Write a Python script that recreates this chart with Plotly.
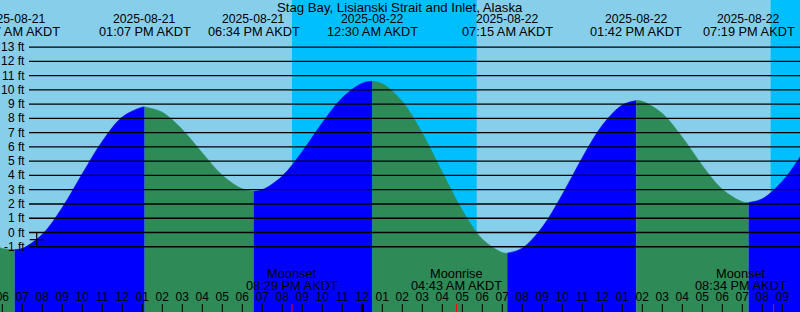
import plotly.graph_objects as go

# ---------------- data ----------------
title = "Stag Bay, Lisianski Strait and Inlet, Alaska"

# hours after 2025-08-21 00:00 AKDT
extreme_times = [6.62, 13.117, 18.567, 24.5, 31.25, 37.7, 43.317]
extreme_heights = [-1.2, 8.8, 2.9, 10.6, -1.45, 9.25, 2.1]
extreme_dates = ["2025-08-21", "2025-08-21", "2025-08-21", "2025-08-22",
                 "2025-08-22", "2025-08-22", "2025-08-22"]
extreme_clock = ["06:37 AM AKDT", "01:07 PM AKDT", "06:34 PM AKDT", "12:30 AM AKDT",
                 "07:15 AM AKDT", "01:42 PM AKDT", "07:19 PM AKDT"]

# hourly tide readings (ft)
hour_times = [5, 6, 7, 8, 9, 10, 11, 12, 13, 14, 15, 16, 17, 18, 19, 20, 21, 22, 23, 24,
              25, 26, 27, 28, 29, 30, 31, 32, 33, 34, 35, 36, 37, 38, 39, 40, 41, 42, 43,
              44, 45, 46]
hour_heights = [-0.5, -1.12, -1.12, -0.13, 1.76, 4.12, 6.40, 8.10, 8.79, 8.43, 7.22, 5.58,
                4.02, 3.06, 3.00, 3.96, 5.68, 7.69, 9.45, 10.47, 10.44, 9.19, 6.96, 4.22,
                1.56, -0.46, -1.41, -1.10, 0.38, 2.67, 5.25, 7.52, 8.94, 9.20, 8.35, 6.68,
                4.70, 3.03, 2.16, 2.36, 3.59, 5.53]

# hour axis
tick_hours = [6, 7, 8, 9, 10, 11, 12, 13, 14, 15, 16, 17, 18, 19, 20, 21, 22, 23, 24, 25,
              26, 27, 28, 29, 30, 31, 32, 33, 34, 35, 36, 37, 38, 39, 40, 41, 42, 43, 44,
              45, 46]
tick_labels = ["06", "07", "08", "09", "10", "11",
               "12",
               "01", "02", "03", "04", "05", "06", "07", "08", "09", "10", "11",
               "12",
               "01", "02", "03", "04", "05", "06", "07", "08", "09", "10", "11",
               "12",
               "01", "02", "03", "04", "05", "06", "07", "08", "09", "10"]
midnights = [24]

# height levels
levels = [-1, 0, 1, 2, 3, 4, 5, 6, 7, 8, 9, 10, 11, 12, 13]

# night intervals
night_start = [20.485, 44.42]
night_end = [29.72, 47.0]

# moon events
moon_times = [20.483, 28.717, 44.567]
moon_names = ["Moonset", "Moonrise", "Moonset"]
moon_clock = ["08:29 PM AKDT", "04:43 AM AKDT", "08:34 PM AKDT"]

# mark
mark_time = [7.72]
mark_level = [-0.5]

# ---------------- layout constants ----------------
W, H = 800, 312
FONT = "Liberation Sans"
DAY = "#87CEEB"
NIGHT = "#00BFFF"
RISE = "#0000FF"
FALL = "#2E8B57"

PX_PER_FT = 14.26
FT0_PX = 232.5
PX_PER_HOUR = 20.0
MIDNIGHT_PX = 362.3
MOON_LABEL_MAX_PX = W - 59   # bottom labels are kept inside the canvas

T0 = 24 - MIDNIGHT_PX / PX_PER_HOUR
T1 = T0 + W / PX_PER_HOUR
YMAX = FT0_PX / PX_PER_FT
YMIN = (FT0_PX - H) / PX_PER_FT


def px2ft(py):
    return (FT0_PX - py) / PX_PER_FT


def ptop(py):
    return 1 - py / H


def t2px(t):
    return (t - T0) * PX_PER_HOUR


fig = go.Figure()

# ---------------- tide fill ----------------
pts = sorted(zip(hour_times + extreme_times, hour_heights + extreme_heights))
bounds = [pts[0][0]] + extreme_times + [pts[-1][0]]
for a, b in zip(bounds[:-1], bounds[1:]):
    seg = [p for p in pts if a <= p[0] <= b]
    xs = [p[0] for p in seg]
    ys = [p[1] for p in seg]
    color = RISE if ys[-1] > ys[0] else FALL
    fig.add_trace(go.Scatter(x=xs, y=[YMIN] * len(xs), mode="lines",
                             line=dict(width=0), showlegend=False, hoverinfo="skip"))
    fig.add_trace(go.Scatter(x=xs, y=ys, mode="lines",
                             line=dict(width=0.6, shape="spline", color=color),
                             fill="tonexty", fillcolor=color,
                             showlegend=False, hoverinfo="skip"))

# mark
fig.add_trace(go.Scatter(x=mark_time, y=mark_level, mode="markers",
                         marker=dict(symbol="cross-thin", size=10,
                                     line=dict(color="black", width=1.2)),
                         showlegend=False, hoverinfo="skip"))

# hour labels
fig.add_trace(go.Scatter(x=tick_hours, y=[px2ft(297.5)] * len(tick_hours),
                         mode="text", text=tick_labels, textposition="middle center",
                         textfont=dict(family=FONT, size=12, color="black"),
                         cliponaxis=False, showlegend=False, hoverinfo="skip"))

shapes = []
# night backgrounds
for s, e in zip(night_start, night_end):
    shapes.append(dict(type="rect", xref="x", yref="paper", x0=s, x1=e, y0=0, y1=1,
                       fillcolor=NIGHT, line=dict(width=0), layer="below"))
# level lines
for lv in levels:
    shapes.append(dict(type="line", xref="paper", yref="y", x0=29 / W, x1=1,
                       y0=lv, y1=lv, line=dict(color="black", width=1.3), layer="above"))
# hour ticks
for t in tick_hours:
    shapes.append(dict(type="line", xref="x", yref="paper", x0=t, x1=t,
                       y0=0, y1=8 / H, line=dict(color="black", width=1), layer="above"))
for t in midnights:
    shapes.append(dict(type="line", xref="x", yref="paper", x0=t, x1=t,
                       y0=0, y1=8 / H, line=dict(color="black", width=3), layer="above"))
for t in moon_times:
    shapes.append(dict(type="line", xref="x", yref="paper", x0=t, x1=t,
                       y0=0, y1=8 / H, line=dict(color="red", width=1), layer="above"))

annotations = []
f_title = dict(family=FONT, size=13.2, color="black")
f_date = dict(family=FONT, size=12.2, color="black")
f_time = dict(family=FONT, size=12.8, color="black")
f_lvl = dict(family=FONT, size=12, color="black")
annotations.append(dict(text=title, xref="paper", yref="paper", x=0.5, y=ptop(7.3),
                        xanchor="center", yanchor="middle", showarrow=False, font=f_title))
for t, d, c in zip(extreme_times, extreme_dates, extreme_clock):
    annotations.append(dict(text=d, xref="x", yref="paper", x=t, y=ptop(19),
                            xanchor="center", yanchor="middle", showarrow=False, font=f_date))
    annotations.append(dict(text=c, xref="x", yref="paper", x=t, y=ptop(31.5),
                            xanchor="center", yanchor="middle", showarrow=False, font=f_time))
for lv in levels:
    annotations.append(dict(text=f"{lv} ft", xref="paper", yref="y", x=27 / W, y=lv,
                            xanchor="right", yanchor="middle", showarrow=False, font=f_lvl))
for t, n, c in zip(moon_times, moon_names, moon_clock):
    cx = min(t2px(t), MOON_LABEL_MAX_PX) / W
    annotations.append(dict(text=n, xref="paper", yref="paper", x=cx, y=ptop(273.3),
                            xanchor="center", yanchor="middle", showarrow=False, font=f_time))
    annotations.append(dict(text=c, xref="paper", yref="paper", x=cx, y=ptop(285.7),
                            xanchor="center", yanchor="middle", showarrow=False, font=f_time))

fig.update_layout(
    width=W, height=H, margin=dict(l=0, r=0, t=0, b=0, pad=0),
    paper_bgcolor=DAY, plot_bgcolor=DAY,
    xaxis=dict(range=[T0, T1], visible=False, fixedrange=True),
    yaxis=dict(range=[YMIN, YMAX], visible=False, fixedrange=True),
    shapes=shapes, annotations=annotations, showlegend=False,
    font=dict(family=FONT, size=12, color="black"),
)

fig.write_html("out.html", config={"displayModeBar": False})
